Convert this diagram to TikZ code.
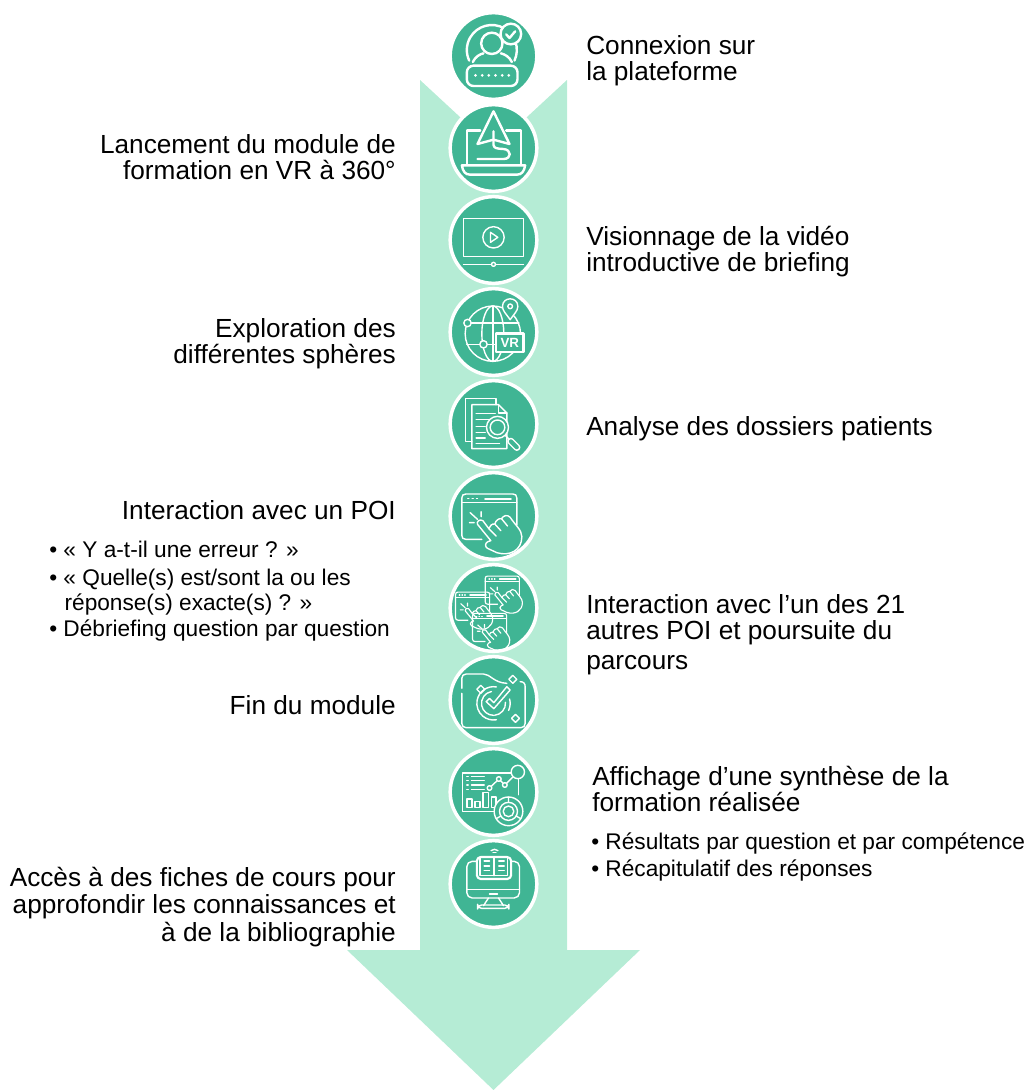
\documentclass[tikz,border=0pt]{standalone}
\usepackage{fontspec}
\setmainfont{Liberation Sans}[Ligatures=NoCommon]
\definecolor{dk}{RGB}{64,181,148}
\definecolor{lt}{RGB}{181,236,213}
\tikzset{
  x=.75pt,y=-.75pt,
  disc/.style={circle,fill=dk,draw=white,line width=2.6pt,minimum size=65pt,inner sep=0pt},
  big/.style={inner sep=0pt,font=\fontsize{19.65}{19.6}\selectfont,text=black},
  bigr/.style={big,anchor=east,align=right},
  bigl/.style={big,anchor=west,align=left},
  small/.style={inner sep=0pt,font=\fontsize{17}{18.7}\selectfont,text=black,anchor=north west,align=left},
  ico/.style 2 args={shift={(#1.center)},x=.25pt,y=-.25pt,shift={(-280,-#2)},draw=white,line width=1.05pt,line cap=round,line join=round},
  thick1/.style={line width=1.8pt}
}
\newcommand\clickwin{%
  \draw (245,778) -- (197,778) .. controls (189,778) and (185,774) .. (185,766) -- (185,654) .. controls (185,646) and (189,642) .. (197,642) -- (338,642) .. controls (346,642) and (350,646) .. (350,654) -- (350,735);
  \draw (185,668) -- (350,668);
  \draw (203,656) -- (206,656) (216,656) -- (219,656) (229,656) -- (232,656);
  \draw[line width=1.4pt] (255,656) -- (332,656);
  \draw (210,698) -- (232,718) (243,695) -- (243,710) (208,728) -- (222,728);
  \draw (248,722) .. controls (240,716) and (228,724) .. (232,733) -- (272,782) -- (263,785) .. controls (254,790) and (254,800) .. (262,805) -- (290,818) .. controls (330,830) and (365,810) .. (365,770) .. controls (365,750) and (345,735) .. (330,712) .. controls (322,703) and (310,706) .. (304,716) .. controls (296,714) and (286,722) .. (284,732) .. controls (276,730) and (268,738) .. (266,746) -- cycle;
  \draw (284,732) -- (302,752) (304,716) -- (322,738) (266,746) -- (288,768);
}
\begin{document}
\begin{tikzpicture}
\useasboundingbox (0,0) rectangle (1029,1090);
% arrow
\fill[lt] (420,80) -- (493.5,148) -- (567,80) -- (567,950) -- (640,950) -- (493.5,1090) -- (347,950) -- (420,950) -- cycle;
% discs
\node[disc] (c1) at (493.5,56) {};
\node[disc] (c2) at (493.5,148) {};
\node[disc] (c3) at (493.5,240) {};
\node[disc] (c4) at (493.5,332) {};
\node[disc] (c5) at (493.5,424) {};
\node[disc] (c6) at (493.5,516) {};
\node[disc] (c7) at (493.5,608) {};
\node[disc] (c8) at (493.5,700) {};
\node[disc] (c9) at (493.5,792) {};
\node[disc] (c10) at (493.5,884) {};
% icon 1
\begin{scope}[ico={c1}{168},thick1]
  \draw (275,150) ++(-60:75) arc[start angle=-60,end angle=-205,radius=75];
  \draw (275,150) ++(-20:75) arc[start angle=-20,end angle=25,radius=75];
  \draw (275,130) circle[radius=32];
  \draw (218,186) .. controls (225,170) and (240,162) .. (250,160);
  \draw (335,186) .. controls (328,170) and (312,162) .. (302,160);
  \draw[fill=dk] (332,102) circle[radius=31];
  \draw (318,103) -- (328,114) -- (345,94);
  \draw[rounded corners=5pt] (200,197) rectangle (352,258);
  \foreach \q in {226,246,266,286,306,326} \fill[white] (\q,226) circle[radius=4.5];
\end{scope}
% icon 2
\begin{scope}[ico={c2}{445},thick1]
  \draw (240,393) -- (200,393) -- (200,495) (318,393) -- (362,393) -- (362,495);
  \draw (185,497) -- (375,497) .. controls (372,515) and (365,525) .. (350,525) -- (210,525) .. controls (195,525) and (188,515) .. (185,497) -- cycle;
  \draw (280,335) -- (232,433) -- (280,420) -- (328,433) -- cycle;
  \draw (280,395) -- (280,436) .. controls (282,446) and (290,447) .. (310,448) .. controls (335,450) and (335,478) .. (310,478) -- (232,478);
\end{scope}
% icon 3
\begin{scope}[ico={c3}{720}]
  \draw (190,655) rectangle (370,770);
  \draw (280,712) circle[radius=32];
  \draw (271,697) -- (293,712) -- (271,727) -- cycle;
  \draw (190,793) -- (274,793) (286,793) -- (370,793);
  \draw (280,793) circle[radius=6];
\end{scope}
% icon 4
\begin{scope}[ico={c4}{155}]
  \draw (278,160) circle[radius=83];
  \draw (278,160) ellipse[x radius=33,y radius=83];
  \draw (200,128) -- (356,128) (200,192) -- (356,192) (278,77) -- (278,243);
  \draw[fill=dk] (202,128) circle[radius=11];
  \draw[fill=dk] (250,192) circle[radius=11];
  \draw[fill=dk] (330,118) .. controls (318,100) and (307,92) .. (307,78) .. controls (307,48) and (353,48) .. (353,78) .. controls (353,92) and (342,100) .. (330,118) -- cycle;
  \draw (330,78) circle[radius=7];
  \draw[fill=dk,thick1] (288,160) rectangle (370,215);
  \node[inner sep=0pt,text=white,font=\fontsize{10}{10}\selectfont\bfseries] (vr) at (329,188) {VR};
\end{scope}
% icon 5
\begin{scope}[ico={c5}{433}]
  \draw (215,485) -- (196,485) -- (196,356) -- (288,356) -- (288,375);
  \draw (215,375) -- (295,375) -- (320,400) -- (320,507) -- (215,507) -- cycle;
  \draw (295,375) -- (295,400) -- (320,400);
  \draw (228,401) -- (285,401) (228,420) -- (265,420) (228,440) -- (255,440) (228,458) -- (255,458) (228,475) -- (255,475) (228,491) -- (298,491);
  \draw[fill=dk] (292,443) circle[radius=33];
  \draw (292,443) circle[radius=22];
  \draw (316,468) -- (326,478);
  \draw[rounded corners=2pt] (332,473) -- (362,503) -- (350,515) -- (320,485) -- cycle;
\end{scope}
% icon 6
\begin{scope}[ico={c6}{708}]
  \clickwin
\end{scope}
% icon 7
\begin{scope}[ico={c7}{145},line width=.85pt]
  \begin{scope}[shift={(306,92)},scale=.62,shift={(-267,-711)}]\clickwin\end{scope}
  \begin{scope}[shift={(217,140)},scale=.62,shift={(-267,-711)}]\clickwin\end{scope}
  \begin{scope}[shift={(268,204)},scale=.62,shift={(-267,-711)}]\clickwin\end{scope}
\end{scope}
% icon 8
\begin{scope}[ico={c8}{420}]
  \draw (185,400) -- (185,490) .. controls (185,498) and (190,503) .. (198,503) -- (362,503) .. controls (370,503) and (375,498) .. (375,490) -- (375,380) .. controls (375,370) and (370,365) .. (360,365);
  \draw (185,385) -- (185,355) .. controls (185,347) and (190,342) .. (198,342) -- (250,342) .. controls (270,342) and (280,368) .. (320,370);
  \foreach \a/\b in {242/388,338/358,346/475} \draw (\a,\b-12) -- (\a+12,\b) -- (\a,\b+12) -- (\a-12,\b) -- cycle;
  \draw (280,430) ++(-80:50) arc[start angle=-80,end angle=-280,radius=50];
  \draw (280,430) ++(-15:50) arc[start angle=-15,end angle=25,radius=50];
  \draw (280,430) ++(-100:36) arc[start angle=-100,end angle=-270,radius=36];
  \draw (280,430) ++(-5:36) arc[start angle=-5,end angle=85,radius=36];
  \draw (258,425) -- (268,415) -- (281,428) -- (320,380) -- (330,390) -- (281,446) -- cycle;
\end{scope}
% icon 9
\begin{scope}[ico={c9}{697}]
  \draw (280,755) -- (187,755) -- (187,640) -- (355,640) -- (355,705);
  \draw (200,650) -- (204,650) (214,650) -- (252,650) (200,663) -- (204,663) (214,663) -- (252,663) (200,676) -- (204,676) (214,676) -- (252,676) (200,689) -- (204,689) (214,689) -- (252,689);
  \draw (200,718) rectangle (216,744);
  \draw (225,726) rectangle (239,744);
  \draw (249,698) rectangle (265,744);
  \draw (274,712) rectangle (288,744);
  \draw (268,685) circle[radius=7];
  \draw (296,658) circle[radius=7];
  \draw (314,676) circle[radius=7];
  \draw (273,680) -- (291,663) (301,663) -- (309,671) (319,671) -- (338,652);
  \draw[fill=dk] (353,637) circle[radius=20];
  \draw[fill=dk] (325,755) circle[radius=43];
  \draw (325,755) circle[radius=27];
  \draw (325,755) circle[radius=16];
  \draw (325,712) -- (325,728) (288,777) -- (302,769) (362,777) -- (348,769);
\end{scope}
% icon 10
\begin{scope}[ico={c10}{253}]
  \draw[rounded corners=4pt] (200,185) rectangle (358,295);
  \draw (200,270) -- (358,270);
  \draw (268,283) -- (292,283);
  \draw (265,295) -- (250,318) (295,295) -- (310,318);
  \draw[rounded corners=3pt] (232,316) rectangle (326,326);
  \draw[fill=dk,line width=1.6pt,rounded corners=3pt] (230,172) rectangle (333,238);
  \draw (240,172) -- (240,228) -- (322,228) -- (322,172) (281,172) -- (281,228);
  \draw (252,184) -- (268,184) (252,199) -- (268,199) (252,213) -- (268,213) (296,184) -- (312,184) (296,199) -- (312,199) (296,213) -- (312,213);
  \draw (283,165) ++(-130:16) arc[start angle=-130,end angle=-50,radius=16];
  \draw (283,165) ++(-125:8) arc[start angle=-125,end angle=-55,radius=8];
\end{scope}
% labels
\node[bigl] (t1) at (586,61) {Connexion sur\\la plateforme};
\node[bigr] (t2) at (396,157.5) {Lancement du module de\\formation en VR à 360°};
\node[bigl] (t3) at (586,251.5) {Visionnage de la vidéo\\introductive de briefing};
\node[bigr] (t4) at (396,344) {Exploration des\\différentes sphères};
\node[bigl] (t5) at (586,429) {Analyse des dossiers patients};
\node[bigr] (t6) at (396,510) {Interaction avec un POI};
\node[small] (t6b) at (49,541) {• « Y a-t-il une erreur ? »\\[2.5pt]• « Quelle(s) est/sont la ou les\\\hspace*{11.5pt}réponse(s) exacte(s) ? »\\[0.5pt]• Débriefing question par question};
\node[bigl] (t7) at (586,635) {Interaction avec l’un des 21\\autres POI et poursuite du\\[3pt]parcours};
\node[bigr] (t8) at (396,705) {Fin du module};
\node[bigl] (t9) at (592,789) {Affichage d’une synthèse de la\\formation réalisée};
\node[small] (t9b) at (591,833) {• Résultats par question et par compétence\\[1.5pt]• Récapitulatif des réponses};
\node[big,anchor=east,align=right,font=\fontsize{19.65}{20.6}\selectfont] (t10) at (396,907) {Accès à des fiches de cours pour\\approfondir les connaissances et\\à de la bibliographie};
\end{tikzpicture}
\end{document}
